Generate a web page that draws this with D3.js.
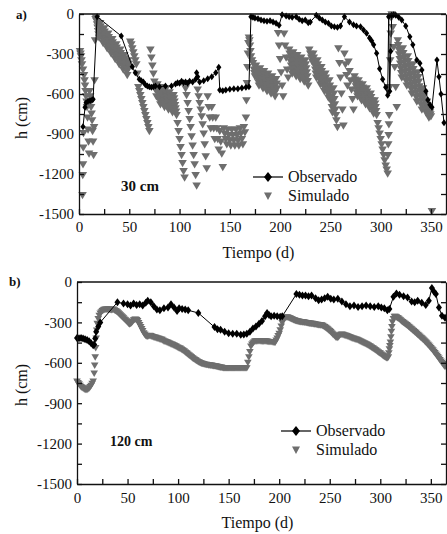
<!DOCTYPE html>
<html>
<head>
<meta charset="utf-8">
<script src="https://d3js.org/d3.v7.min.js"></script>
<style>
body { margin: 0; background: #fff; }
svg { display: block; font-family: "Liberation Serif", "Times New Roman", serif; }
svg text { font-family: "Liberation Serif", "Times New Roman", serif; fill: #111; }
.axis path, .axis line { stroke: #111; stroke-width: 1.3; }
.axis text { font-size: 15px; }
</style>
</head>
<body>
<svg id="fig" width="447" height="534"></svg>
<script>
// tick values
var xTicks = [0, 50, 100, 150, 200, 250, 300, 350];
var xMinor = [0, 25, 50, 75, 100, 125, 150, 175, 200, 225, 250, 275, 300, 325, 350];
var yTicks = [0, -300, -600, -900, -1200, -1500];
var yMinor = [0, -150, -300, -450, -600, -750, -900, -1050, -1200, -1350, -1500];

// panel a) 30 cm, observed [day, h]
var obs30 = [[4,-845],[6,-700],[7,-665],[9,-655],[11,-650],[13,-645],[14,-640],[18,-20],[42,-165],[53,-395],[56,-440],[60,-490],[62,-500],[64,-510],[66,-530],[68,-540],[70,-545],[72,-550],[74,-545],[76,-540],[80,-545],[86,-540],[92,-540],[96,-525],[98,-515],[100,-520],[102,-505],[104,-515],[106,-510],[108,-520],[110,-505],[113,-510],[116,-490],[117,-440],[118,-470],[120,-510],[124,-500],[128,-485],[132,-470],[136,-440],[139,-400],[140,-570],[143,-575],[146,-570],[150,-565],[154,-560],[158,-560],[162,-555],[166,-550],[169,-545],[171,-20],[173,-25],[175,-30],[178,-35],[181,-45],[184,-50],[187,-55],[190,-50],[193,-60],[196,-70],[199,-85],[202,-5],[206,-15],[209,-20],[212,-25],[216,-20],[219,-40],[222,-50],[225,-45],[228,-65],[230,-60],[236,-10],[239,-30],[242,-45],[245,-60],[248,-70],[251,-90],[254,-95],[257,-100],[260,-90],[264,-20],[269,-60],[273,-80],[276,-90],[280,-95],[283,-120],[286,-145],[289,-180],[291,-200],[293,-230],[296,-295],[299,-410],[302,-490],[305,-550],[307,-610],[308,-20],[309,-580],[310,-280],[311,-10],[313,-5],[315,-10],[318,-25],[321,-45],[325,-90],[329,-170],[332,-230],[336,-345],[339,-370],[341,-420],[345,-580],[347,-645],[349,-680],[351,-700],[356,-345],[358,-470],[360,-600],[363,-815]];

// panel a) 30 cm, simulated [day, h]
var sim30 = [[1,-280],[1.5,-300],[2,-320],[2.5,-350],[3,-380],[3.5,-1360],[3.75,-1210],[4,-1130],[4.25,-1005],[4.5,-895],
[4,-420],[5,-460],[5.5,-500],[6,-540],[6.5,-580],[7,-620],[7.5,-660],[8,-700],[8.5,-780],[9,-870],[9.5,-960],[10,-1050],
[10.5,-580],[11,-620],[11.5,-660],[12,-700],[12.5,-750],[13,-800],[13.5,-880],[14,-960],[14.5,-1060],[15,-850],[15.5,-500],[16,-200],[16.5,-40],
[17,-30],[17.5,-55],[18,-80],[18.5,-105],[19,-130],[19.5,-155],[20,-180],
[21,-70],[21.5,-95],[22,-120],[22.5,-145],[23,-170],[23.5,-195],[24,-220],
[25,-110],[25.5,-135],[26,-160],[26.5,-185],[27,-210],[27.5,-235],[28,-260],
[29,-150],[29.5,-175],[30,-200],[30.5,-225],[31,-250],[31.5,-275],[32,-300],
[33,-190],[33.5,-215],[34,-240],[34.5,-265],[35,-290],[35.5,-315],[36,-340],
[37,-230],[37.5,-255],[38,-280],[38.5,-305],[39,-330],[39.5,-355],[40,-380],
[41,-270],[41.5,-295],[42,-320],[42.5,-345],[43,-370],[43.5,-395],[44,-420],
[45,-310],[45.5,-335],[46,-360],[46.5,-385],[47,-410],[47.5,-435],[48,-460],
[49,-350],[49.5,-375],[50,-400],
[51,-210],[52,-230],[53,-260],[54,-290],[55,-320],[56,-350],[57,-380],[58,-450],[59,-550],[60,-580],[61,-610],[62,-640],[63,-670],[64,-700],[65,-730],[66,-760],[67,-790],[68,-820],[69,-850],[70,-880],
[71,-270],[72,-330],[73,-390],[74,-450],[75,-510],[76,-570],[77,-620],
[78,-530],[78.5,-555],[79,-580],[79.5,-605],[80,-630],[80.5,-655],[81,-680],
[82,-550],[82.5,-575],[83,-600],[83.5,-625],[84,-650],[84.5,-675],[85,-700],
[86,-570],[86.5,-595],[87,-620],[87.5,-645],[88,-670],[88.5,-695],[89,-720],
[90,-590],[90.5,-615],[91,-640],[91.5,-665],[92,-690],[92.5,-715],[93,-740],
[94,-610],[94.5,-635],[95,-660],[95.5,-685],[96,-710],[96.5,-735],[97,-760],
[98,-820],[99,-880],[100,-940],[101,-1000],[102,-1060],[103,-1120],[104,-1180],[105,-1230],
[106,-560],[107,-610],[108,-670],[109,-730],[110,-790],[111,-850],[112,-920],[113,-990],[114,-1060],[115,-1130],[116,-1210],[117,-1290],
[118,-570],[119,-620],[120,-670],[121,-720],[122,-770],[123,-830],[124,-900],[125,-980],[126,-1070],[127,-1160],
[128,-620],[129,-700],[130,-780],[131,-860],[132,-700],[133,-780],[134,-860],[135,-940],[136,-780],[137,-860],[138,-940],[139,-1020],[140,-880],[141,-960],[142,-1050],[143,-1150],
[144,-860],[145,-900],[146,-940],[147,-980],[148,-870],[149,-910],[150,-950],[151,-990],[152,-870],[153,-910],[154,-950],[155,-990],[156,-870],[157,-910],[158,-950],[159,-990],[160,-860],[161,-900],[162,-940],[163,-980],[164,-850],[165,-890],
[166,-780],[166.5,-650],[167,-520],[167.5,-400],[168,-300],[168.5,-220],[169,-180],[169.5,-200],[170,-240],[170.5,-280],[171,-320],[172,-350],[173,-370],
[174,-420],[174.5,-445],[175,-470],
[176,-390],[176.5,-415],[177,-440],[177.5,-465],[178,-490],[178.5,-515],[179,-540],
[180,-410],[180.5,-435],[181,-460],[181.5,-485],[182,-510],[182.5,-535],[183,-560],
[184,-430],[184.5,-455],[185,-480],[185.5,-505],[186,-530],[186.5,-555],[187,-580],
[188,-450],[188.5,-475],[189,-500],[189.5,-525],[190,-550],[190.5,-575],[191,-600],
[192,-470],[192.5,-495],[193,-520],[193.5,-545],[194,-570],[194.5,-595],[195,-620],
[196,-490],[196.5,-525],[197,-560],
[198,-145],[199,-240],[200,-340],[201,-440],[202,-540],[203,-620],[204,-150],[205,-240],[206,-330],[207,-420],[208,-480],
[209,-270],[209.5,-300],[210,-330],[210.5,-360],[211,-390],[211.5,-420],[212,-450],
[213,-290],[213.5,-320],[214,-350],[214.5,-380],[215,-410],[215.5,-440],[216,-470],
[217,-310],[217.5,-340],[218,-370],[218.5,-400],[219,-430],[219.5,-460],[220,-490],
[221,-330],[221.5,-360],[222,-390],[222.5,-420],[223,-450],[223.5,-480],[224,-510],
[225,-350],[225.5,-380],[226,-410],[226.5,-440],[227,-470],[227.5,-505],[228,-540],
[229,-270],[230,-300],[231,-330],[232,-360],
[233,-300],[233.5,-330],[234,-360],[234.5,-390],[235,-420],[235.5,-450],[236,-480],
[237,-350],[237.5,-380],[238,-410],[238.5,-440],[239,-470],[239.5,-500],[240,-530],
[241,-400],[241.5,-430],[242,-460],[242.5,-490],[243,-520],[243.5,-550],[244,-580],
[245,-450],[245.5,-480],[246,-510],[246.5,-540],[247,-570],[247.5,-600],[248,-630],
[249,-500],[249.5,-540],[250,-580],[250.5,-620],[251,-660],[251.5,-700],[252,-740],
[253,-560],[253.5,-600],[254,-640],[254.5,-680],[255,-720],[255.5,-760],[256,-800],[257,-850],
[258,-260],[259,-370],[260,-480],[261,-600],[262,-720],[263,-840],[264,-300],[265,-380],[266,-460],[267,-540],[268,-360],[269,-430],[270,-500],[271,-570],[272,-640],[273,-720],
[274,-470],[274.5,-495],[275,-520],[275.5,-545],[276,-570],[276.5,-595],[277,-620],
[278,-500],[278.5,-525],[279,-550],[279.5,-575],[280,-600],[280.5,-625],[281,-650],
[282,-530],[282.5,-555],[283,-580],[283.5,-605],[284,-630],[284.5,-655],[285,-680],
[286,-560],[286.5,-585],[287,-610],[287.5,-635],[288,-660],[288.5,-685],[289,-710],
[290,-600],[290.5,-625],[291,-650],[291.5,-675],[292,-700],[292.5,-725],[293,-750],
[294,-650],[294.5,-675],[295,-700],[295.5,-730],[296,-760],[297,-820],[298,-860],[299,-900],[300,-940],[301,-980],[302,-1020],[303,-1060],[304,-1100],[305,-1140],[306,-1170],[307,-1200],
[307.3,-1060],[307.6,-980],[307.9,-910],[308.2,-830],[308.5,-760],[309,-550],[309.5,-350],[310,-150],[310.5,-30],[311,-5],[311.5,-10],
[312,-100],[313,-250],[314,-400],[315,-550],[316,-700],
[317,-200],[317.5,-235],[318,-270],[318.5,-305],[319,-340],[319.5,-375],[320,-410],[320.5,-445],[321,-480],
[322,-260],[322.5,-295],[323,-330],[323.5,-365],[324,-400],[324.5,-435],[325,-470],[325.5,-505],[326,-540],
[327,-320],[327.5,-355],[328,-390],[328.5,-425],[329,-460],[329.5,-495],[330,-530],[330.5,-565],[331,-600],
[332,-380],[332.5,-415],[333,-450],[333.5,-485],[334,-520],[334.5,-555],[335,-590],[335.5,-625],[336,-660],
[337,-440],[337.5,-475],[338,-510],[338.5,-545],[339,-580],[339.5,-615],[340,-650],[340.5,-685],[341,-720],
[342,-560],[342.5,-590],[343,-620],[343.5,-650],[344,-680],[344.5,-710],[345,-740],
[346,-660],[346.5,-690],[347,-720],[347.5,-750],[348,-780],[349,-740],[349.5,-755],[350,-770],
[351,-1480]];

// panel b) 120 cm, observed [day, h]
var obs120 = [[0,-415],[2,-418],[4,-415],[6,-420],[8,-425],[10,-430],[12,-440],[14,-455],[16,-470],[17,-465],[18,-420],[19,-370],[21,-330],[23,-300],[40,-150],[46,-160],[50,-165],[53,-175],[56,-160],[59,-170],[62,-165],[65,-175],[68,-155],[70,-140],[73,-150],[76,-180],[79,-205],[82,-210],[86,-195],[90,-190],[93,-165],[96,-190],[99,-215],[101,-195],[104,-200],[107,-205],[110,-210],[120,-230],[136,-335],[139,-350],[142,-355],[146,-370],[150,-380],[154,-385],[158,-385],[162,-392],[165,-390],[168,-385],[171,-370],[174,-345],[177,-330],[180,-310],[183,-290],[186,-255],[188,-230],[190,-245],[192,-255],[195,-250],[198,-255],[201,-258],[203,-255],[217,-90],[220,-95],[223,-100],[226,-100],[229,-105],[232,-100],[236,-120],[239,-135],[242,-130],[245,-120],[248,-110],[251,-125],[254,-130],[258,-125],[262,-145],[266,-165],[270,-180],[274,-175],[278,-185],[282,-180],[286,-175],[290,-180],[294,-185],[298,-180],[301,-190],[304,-195],[307,-210],[309,-200],[313,-110],[316,-85],[319,-95],[323,-105],[327,-115],[331,-145],[334,-150],[337,-140],[341,-155],[345,-170],[348,-140],[351,-45],[353,-70],[355,-90],[358,-190],[361,-250],[364,-265]];

// panel b) 120 cm, simulated [day, h]
var sim120 = [[0,-740],[1,-750],[2,-760],[3,-770],[4,-780],[5,-785],[6,-790],[7,-795],[8,-800],[9,-800],[10,-800],[11,-795],[12,-790],[13,-780],[14,-770],[15,-755],[16,-740],[17,-680],[17.5,-620],[18,-560],[18.5,-490],[19,-420],[19.5,-360],[20,-310],[21,-275],[22,-250],[23,-235],[24,-225],[25,-215],[26,-210],[27,-207],[28,-205],[29,-205],[30,-205],[31,-205],[32,-205],[33,-206],[34,-208],[35,-206],[36,-205],[37,-210],[38,-215],[39,-220],[40,-225],[41,-232],[42,-240],[43,-248],[44,-255],[45,-262],[46,-270],[47,-278],[48,-285],[49,-292],[50,-300],[51,-308],[52,-315],[53,-310],[54,-305],[55,-295],[56,-285],[57,-280],[58,-278],[59,-282],[60,-290],[61,-305],[62,-320],[63,-335],[64,-350],[65,-365],[66,-380],[67,-390],[68,-400],[69,-403],[70,-405],[71,-402],[72,-400],[73,-402],[74,-405],[75,-408],[76,-410],[77,-412],[78,-415],[79,-418],[80,-420],[81,-422],[82,-425],[83,-428],[84,-430],[85,-435],[86,-440],[87,-442],[88,-445],[89,-448],[90,-452],[91,-455],[92,-458],[93,-462],[94,-465],[95,-468],[96,-472],[97,-476],[98,-480],[99,-484],[100,-488],[101,-492],[102,-495],[103,-500],[104,-505],[105,-510],[106,-515],[107,-522],[108,-528],[109,-534],[110,-540],[111,-546],[112,-552],[113,-558],[114,-565],[115,-570],[116,-575],[117,-580],[118,-585],[119,-590],[120,-595],[121,-598],[122,-602],[123,-605],[124,-608],[125,-610],[126,-612],[127,-614],[128,-615],[129,-616],[130,-618],[131,-619],[132,-620],[133,-621],[134,-622],[135,-624],[136,-625],[137,-626],[138,-628],[139,-630],[140,-632],[141,-634],[142,-635],[143,-636],[144,-638],[145,-639],[146,-640],[147,-640],[148,-640],[149,-640],[150,-640],[151,-640],[152,-640],[153,-640],[154,-640],[155,-640],[156,-640],[157,-640],[158,-640],[159,-640],[160,-640],[161,-640],[162,-640],[163,-640],[164,-640],[165,-640],[166,-640],[167,-640],[168,-640],[169,-600],[170,-560],[171,-520],[172,-480],[173,-465],[174,-455],[175,-447],[176,-440],[177,-440],[178,-440],[179,-439],[180,-438],[181,-439],[182,-440],[183,-441],[184,-442],[185,-441],[186,-440],[187,-441],[188,-442],[189,-444],[190,-445],[191,-445],[192,-445],[193,-446],[194,-448],[195,-449],[196,-450],[197,-435],[198,-420],[199,-402],[200,-385],[201,-358],[202,-330],[203,-305],[204,-280],[205,-270],[206,-265],[207,-263],[208,-262],[209,-265],[210,-268],[211,-272],[212,-275],[213,-278],[214,-282],[215,-285],[216,-288],[217,-290],[218,-292],[219,-294],[220,-295],[221,-297],[222,-298],[223,-299],[224,-300],[225,-301],[226,-302],[227,-304],[228,-305],[229,-307],[230,-308],[231,-309],[232,-310],[233,-311],[234,-312],[235,-314],[236,-315],[237,-317],[238,-318],[239,-319],[240,-320],[241,-321],[242,-322],[243,-326],[244,-330],[245,-335],[246,-340],[247,-346],[248,-352],[249,-358],[250,-365],[251,-372],[252,-380],[253,-388],[254,-395],[255,-402],[256,-410],[257,-413],[258,-415],[259,-405],[260,-395],[261,-392],[262,-390],[263,-392],[264,-395],[265,-398],[266,-400],[267,-402],[268,-405],[269,-408],[270,-410],[271,-414],[272,-418],[273,-420],[274,-422],[275,-425],[276,-428],[277,-430],[278,-432],[279,-436],[280,-440],[281,-444],[282,-448],[283,-452],[284,-455],[285,-458],[286,-462],[287,-466],[288,-470],[289,-475],[290,-480],[291,-485],[292,-490],[293,-495],[294,-500],[295,-505],[296,-510],[297,-516],[298,-522],[299,-527],[300,-532],[301,-538],[302,-545],[303,-550],[304,-555],[305,-560],[306,-565],[307,-565],[308,-560],[308.5,-530],[309,-500],[309.5,-475],[310,-450],[310.5,-410],[311,-370],[311.5,-335],[312,-300],[313,-275],[314,-258],[315,-259],[316,-262],[317,-267],[318,-272],[319,-278],[320,-285],[321,-292],[322,-298],[323,-303],[324,-308],[325,-314],[326,-320],[327,-326],[328,-332],[329,-338],[330,-345],[331,-352],[332,-358],[333,-365],[334,-372],[335,-378],[336,-385],[337,-392],[338,-398],[339,-405],[340,-412],[341,-418],[342,-425],[343,-432],[344,-440],[345,-448],[346,-455],[347,-464],[348,-472],[349,-481],[350,-490],[351,-499],[352,-508],[353,-518],[354,-528],[355,-538],[356,-548],[357,-558],[358,-568],[359,-579],[360,-590],[361,-600],[362,-610],[363,-620],[364,-630]];

var simColor = "#6e6e6e";
var svg = d3.select("#fig");

function drawPanel(p) {
	var x = d3.scaleLinear().domain([0, 365]).range([p.left, p.right]);
	var y = d3.scaleLinear().domain([-1500, 0]).range([p.bottom, p.top]);
	var g = svg.append("g");

	// simulated: grey down triangles
	var t = p.tri;
	g.selectAll(".sim").data(p.sim).enter().append("path")
		.attr("class", "sim")
		.attr("d", "M" + (-t) + "," + (-t * 0.8) + "L" + t + "," + (-t * 0.8) + "L0," + (t * 0.9) + "Z")
		.attr("fill", simColor)
		.attr("transform", function(d) { return "translate(" + x(d[0]) + "," + y(d[1]) + ")"; });

	// observed: black line with diamonds
	g.append("path").datum(p.obs)
		.attr("d", d3.line().x(function(d) { return x(d[0]); }).y(function(d) { return y(d[1]); }))
		.attr("fill", "none").attr("stroke", "#000").attr("stroke-width", 1);
	var dm = p.dia;
	g.selectAll(".obs").data(p.obs).enter().append("path")
		.attr("class", "obs")
		.attr("d", "M0," + (-dm) + "L" + (dm * 0.75) + ",0L0," + dm + "L" + (-dm * 0.75) + ",0Z")
		.attr("fill", "#000")
		.attr("transform", function(d) { return "translate(" + x(d[0]) + "," + y(d[1]) + ")"; });

	// axes, ticks pointing inward
	g.append("g").attr("class", "axis")
		.attr("transform", "translate(0," + p.bottom + ")")
		.call(d3.axisBottom(x).tickValues(xMinor).tickSize(-5).tickSizeOuter(0).tickPadding(p.xPad)
			.tickFormat(function(d) { return xTicks.indexOf(d) >= 0 ? d : ""; }));
	g.append("g").attr("class", "axis")
		.attr("transform", "translate(" + p.left + ",0)")
		.call(d3.axisLeft(y).tickValues(yMinor).tickSize(-5).tickSizeOuter(0).tickPadding(5)
			.tickFormat(function(d) { return yTicks.indexOf(d) >= 0 ? d : ""; }));
	g.append("g").attr("class", "axis")
		.attr("transform", "translate(" + p.right + ",0)")
		.call(d3.axisRight(y).tickValues(yMinor).tickSize(-5).tickSizeOuter(0).tickFormat(""));
	g.append("line")
		.attr("x1", p.left).attr("x2", p.right).attr("y1", p.top).attr("y2", p.top)
		.attr("stroke", "#111").attr("stroke-width", 1.3);

	// labels
	svg.append("text").attr("x", p.labX).attr("y", p.labY)
		.attr("font-size", 13).attr("font-weight", "bold").text(p.letter);
	svg.append("text").attr("x", (p.left + p.right) / 2 - 4).attr("y", p.xTitleY)
		.attr("text-anchor", "middle").attr("font-size", 16).text("Tiempo (d)");
	svg.append("text")
		.attr("transform", "translate(27," + p.yTitleY + ") rotate(-90)")
		.attr("text-anchor", "middle").attr("font-size", 16).text("h (cm)");
	svg.append("text").attr("x", p.depthX).attr("y", p.depthY)
		.attr("font-size", p.depthSize).attr("font-weight", "bold").text(p.depth);

	// legend
	var lg = svg.append("g");
	lg.append("line").attr("x1", p.legX - 15).attr("x2", p.legX + 15)
		.attr("y1", p.legY).attr("y2", p.legY).attr("stroke", "#000").attr("stroke-width", 1.2);
	lg.append("path").attr("d", "M0,-5L4,0L0,5L-4,0Z").attr("fill", "#000")
		.attr("transform", "translate(" + p.legX + "," + p.legY + ")");
	lg.append("path").attr("d", "M-4,-3.5L4,-3.5L0,4Z").attr("fill", simColor)
		.attr("transform", "translate(" + p.legX + "," + (p.legY + 19) + ")");
	lg.append("text").attr("x", p.legX + 20).attr("y", p.legY + 5).attr("font-size", 16).text("Observado");
	lg.append("text").attr("x", p.legX + 20).attr("y", p.legY + 24).attr("font-size", 16).text("Simulado");
}

drawPanel({
	left: 79, right: 446, top: 14, bottom: 214,
	sim: sim30, obs: obs30, tri: 4.3, dia: 3.5, xPad: 7,
	letter: "a)", labX: 16, labY: 19,
	xTitleY: 258, yTitleY: 118,
	depth: "30 cm", depthX: 121, depthY: 191, depthSize: 15,
	legX: 268, legY: 177
});

drawPanel({
	left: 77, right: 446, top: 282, bottom: 484,
	sim: sim120, obs: obs120, tri: 3.8, dia: 4, xPad: 8,
	letter: "b)", labX: 9, labY: 286,
	xTitleY: 528, yTitleY: 385,
	depth: "120 cm", depthX: 110, depthY: 446, depthSize: 14,
	legX: 296, legY: 431
});
</script>
</body>
</html>
